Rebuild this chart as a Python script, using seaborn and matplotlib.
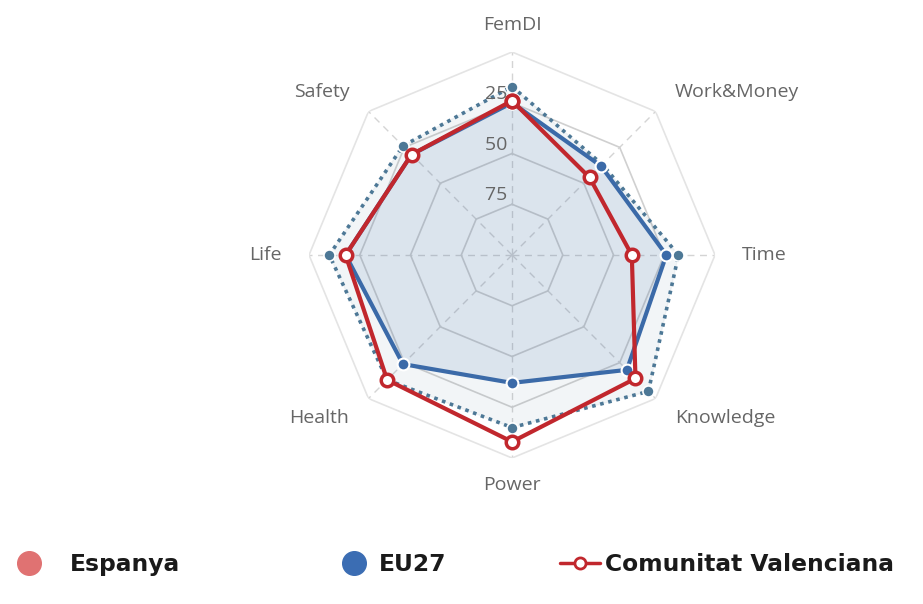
import matplotlib.pyplot as plt
import seaborn as sns
import numpy as np
from matplotlib.lines import Line2D

# Data (radial axis is reversed: 0 outside, 100 at centre)
axes_labels = ["FemDI", "Work&Money", "Time", "Knowledge", "Power", "Health", "Life", "Safety"]
espanya = [17, 37, 18, 5, 15, 13, 10, 24]
eu27 = [25, 38, 24, 20, 37, 24, 18, 30]
valenciana = [24, 46, 41, 14, 8, 13, 18, 30]
ring_values = [0, 25, 50, 75]
ring_labels = ["25", "50", "75"]

sns.set_theme(style="white")
plt.rcParams["font.family"] = ["Open Sans", "DejaVu Sans"]

fig = plt.figure(figsize=(9.23, 6.04), dpi=100)
ax = fig.add_axes([0.3348, 0.2417, 0.4399, 0.6722], projection="polar")
ax.set_theta_offset(np.pi / 2)
ax.set_theta_direction(-1)
ax.set_ylim(100, 0)

n = len(axes_labels)
angles = np.linspace(0, 2 * np.pi, n, endpoint=False)
closed = np.append(angles, angles[0])

def close(vals):
    return np.append(vals, vals[0])

# polygon grid
for rv in ring_values:
    col = "#e4e4e4" if rv == 0 else "#d0d0d0"
    ax.plot(closed, [rv] * (n + 1), color=col, lw=1.2, zorder=1)

ax.set_xticks(angles)
ax.set_xticklabels([])
ax.set_yticks([])
ax.grid(axis="x", color="#d4d4d4", linestyle=(0, (5, 4)), lw=1)
ax.spines["polar"].set_visible(False)
ax.set_facecolor("none")

# tick labels on the top spoke
for rv, lab in zip(ring_values[1:], ring_labels):
    ax.text(0, rv, lab + " ", ha="right", va="bottom", fontsize=14, color="#666666",
            zorder=10)

# series
dot_col = "#4d7896"
blue_col = "#3b6aa8"
red_col = "#c1272d"

ax.fill(closed, close(espanya), color=dot_col, alpha=0.07, zorder=2)
ax.fill(closed, close(eu27), color=blue_col, alpha=0.12, zorder=2)

ax.plot(closed, close(espanya), color=dot_col, lw=2.6, linestyle=(0, (1, 1.3)),
        marker="o", markersize=8, markerfacecolor=dot_col, markeredgecolor="white",
        markeredgewidth=1.2, zorder=3)
ax.plot(closed, close(eu27), color=blue_col, lw=3, marker="o", markersize=8.5,
        markerfacecolor=blue_col, markeredgecolor="white", markeredgewidth=1.5, zorder=4)
ax.plot(closed, close(valenciana), color=red_col, lw=3, marker="o", markersize=9,
        markerfacecolor="white", markeredgecolor=red_col, markeredgewidth=2.5, zorder=5)

# category labels outside the outer ring
for ang, lab in zip(angles, axes_labels):
    s = np.sin(ang)
    ha = "center" if abs(s) < 0.1 else ("left" if s > 0 else "right")
    ax.text(ang, -13.3, lab, ha=ha, va="center", fontsize=14, color="#666666")

# legend, three separate entries like the reference
leg_font = {"family": "DejaVu Sans", "weight": "bold", "size": 16.8}
h1 = Line2D([], [], linestyle="none", marker="o", markersize=17,
            markerfacecolor="#e07272", markeredgecolor="#e07272")
h2 = Line2D([], [], linestyle="none", marker="o", markersize=17,
            markerfacecolor="#3b6db3", markeredgecolor="#3b6db3")
h3 = Line2D([], [], color=red_col, lw=2.5, marker="o", markersize=8,
            markerfacecolor="white", markeredgecolor=red_col, markeredgewidth=2)
entries = [(h1, "Espanya", 15, 1.2, 1.16),
           (h2, "EU27", 340, 1.2, 0.47),
           (h3, "Comunitat Valenciana", 560, 1.72, 0.21)]
for h, lab, x_px, hl, pad in entries:
    fig.legend(handles=[h], labels=[lab], loc="center left",
               bbox_to_anchor=(x_px / 923, 0.0646), frameon=False, prop=leg_font,
               handlelength=hl, handletextpad=pad, borderpad=0, borderaxespad=0,
               labelcolor="#1a1a1a")

fig.savefig("out.png", dpi=100)
